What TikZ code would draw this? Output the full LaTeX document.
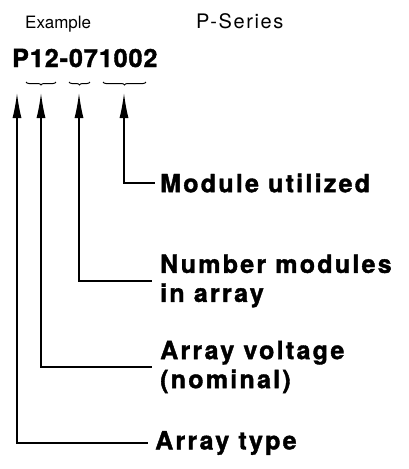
\documentclass[tikz,border=0pt]{standalone}
\usepackage{fontspec}
\setmainfont{TeX Gyre Heros}
\newfontfamily\labfont[LetterSpace=9,BoldFeatures={FakeBold=1.5}]{TeX Gyre Heros}
\newfontfamily\codefont[LetterSpace=4,BoldFeatures={FakeBold=1.5}]{TeX Gyre Heros}
\newfontfamily\serfont[LetterSpace=8]{TeX Gyre Heros}
\usetikzlibrary{arrows.meta,decorations.pathreplacing}
\begin{document}
\begin{tikzpicture}[x=1pt,y=-1pt,
  lab/.style={anchor=west,inner sep=0pt,align=left,font=\labfont\bfseries\fontsize{25}{29}\selectfont},
  conn/.style={line width=1.3pt,{Latex[length=25pt,width=9pt]}-},
  brc/.style={line width=1pt,decorate,decoration={brace,mirror,amplitude=3pt}}]
\useasboundingbox (0,0) rectangle (409,469);
\node[anchor=base west,inner sep=0pt,font=\fontsize{17}{20}\selectfont] (ex) at (25,28) {Example};
\node[anchor=base west,inner sep=0pt,font=\serfont\fontsize{20}{24}\selectfont] (ps) at (196,28) {P-Series};
\node[anchor=base west,inner sep=0pt,font=\codefont\bfseries\fontsize{25}{29}\selectfont] (code) at (12,67) {P12-071002};
\draw[brc] (26,82) -- (56,82);
\draw[brc] (69,82) -- (90,82);
\draw[brc] (103,82) -- (146,82);
\coordinate (t1) at (17,93);
\coordinate (t2) at (41,93);
\coordinate (t3) at (79,93);
\coordinate (t4) at (124,93);
\node[lab] (mu) at (160,183) {Module utilized};
\node[lab] (nm) at (160,281) {Number modules\\in array};
\node[lab] (av) at (160,367) {Array voltage\\(nominal)};
\node[lab] (at) at (155,443) {Array type};
\draw[conn] (t4) |- ([xshift=-5pt]mu.west);
\draw[conn] (t3) |- ([xshift=-8pt]nm.west);
\draw[conn] (t2) |- ([xshift=-8pt]av.west);
\draw[conn] (t1) |- ([xshift=-7pt]at.west);
\end{tikzpicture}
\end{document}
